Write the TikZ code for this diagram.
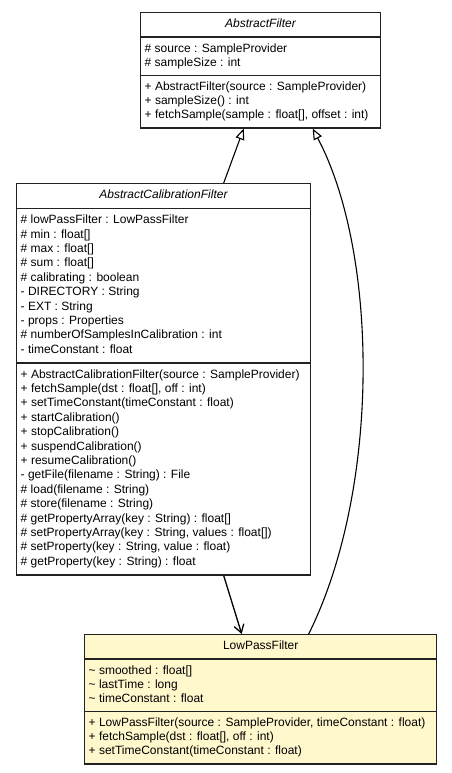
\documentclass[tikz,border=0pt]{standalone}
\usepackage{fontspec}
\setmainfont{Liberation Sans}
\usetikzlibrary{arrows.meta, shapes.multipart, calc}
\definecolor{umlInk}{HTML}{222222}
\definecolor{umlNote}{HTML}{FFF8CC}

\begin{document}
\begin{tikzpicture}[
  x=1pt, y=-1pt,
  font=\fontsize{12}{14}\selectfont,
  umlclass/.style={draw=umlInk, line width=1.4pt, rectangle split, rectangle split parts=3,
                   rectangle split part align={center, left, left}, align=left,
                   inner xsep=4pt, inner ysep=4.5pt, anchor=north west, fill=white},
  extends/.style={-{Triangle[length=11pt, width=9pt, fill=white]}, line width=1.1pt, draw=black},
  assoc/.style={-{Straight Barb[length=8pt, width=10pt]}, line width=1.3pt, draw=black}
]
\useasboundingbox (0,0) rectangle (452,773);

\node[umlclass, minimum width=240pt] (filter) at (140,12)
  {\strut\textit{AbstractFilter}
   \nodepart{two}\strut\# source : SampleProvider\\
   \strut\# sampleSize : int
   \nodepart{three}\strut+ AbstractFilter(source : SampleProvider)\\
   \strut+ sampleSize() : int\\
   \strut+ fetchSample(sample : float[], offset : int)};

\node[umlclass, minimum width=294pt, font=\fontsize{12}{14.4}\selectfont] (calib) at (16,183)
  {\strut\textit{AbstractCalibrationFilter}
   \nodepart{two}\strut\# lowPassFilter : LowPassFilter\\
   \strut\# min : float[]\\
   \strut\# max : float[]\\
   \strut\# sum : float[]\\
   \strut\# calibrating : boolean\\
   \strut- DIRECTORY : String\\
   \strut- EXT : String\\
   \strut- props : Properties\\
   \strut\# numberOfSamplesInCalibration : int\\
   \strut- timeConstant : float
   \nodepart{three}\strut+ AbstractCalibrationFilter(source : SampleProvider)\\
   \strut+ fetchSample(dst : float[], off : int)\\
   \strut+ setTimeConstant(timeConstant : float)\\
   \strut+ startCalibration()\\
   \strut+ stopCalibration()\\
   \strut+ suspendCalibration()\\
   \strut+ resumeCalibration()\\
   \strut- getFile(filename : String) : File\\
   \strut\# load(filename : String)\\
   \strut\# store(filename : String)\\
   \strut\# getPropertyArray(key : String) : float[]\\
   \strut\# setPropertyArray(key : String, values : float[])\\
   \strut\# setProperty(key : String, value : float)\\
   \strut\# getProperty(key : String) : float};

\node[umlclass, minimum width=352pt, fill=umlNote] (lowpass) at (84,634)
  {\strut LowPassFilter
   \nodepart{two}\strut\textasciitilde{} smoothed : float[]\\
   \strut\textasciitilde{} lastTime : long\\
   \strut\textasciitilde{} timeConstant : float
   \nodepart{three}\strut+ LowPassFilter(source : SampleProvider, timeConstant : float)\\
   \strut+ fetchSample(dst : float[], off : int)\\
   \strut+ setTimeConstant(timeConstant : float)};

\draw[extends] ([xshift=60pt]calib.north) -- ([xshift=-17pt]filter.south);
\draw[extends] ([xshift=48pt]lowpass.north) .. controls +(72,-145) and +(66,125) .. ([xshift=52pt]filter.south);
\draw[assoc] ([xshift=60pt]calib.south) -- ([xshift=-19pt]lowpass.north);

\end{tikzpicture}
\end{document}
